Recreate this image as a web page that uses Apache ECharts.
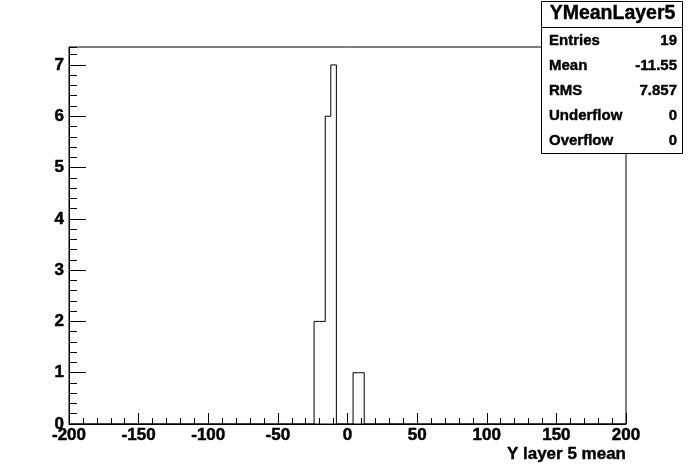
<!DOCTYPE html>
<html>
<head>
<meta charset="utf-8">
<script src="https://cdn.jsdelivr.net/npm/echarts@6/dist/echarts.min.js"></script>
<style>
html,body{margin:0;padding:0;background:#fff;}
#c{width:696px;height:472px;}
</style>
</head>
<body>
<div id="c"></div>
<script>
// Histogram bins (left edges), bin width and counts
var binLeftEdges = [-24, -20, -16, -12, 4, 8];
var binWidth = 4;
var binCounts = [2, 2, 6, 7, 1, 1];
var xRange = [-200, 200];
var yRange = [0, 7.35];
var xTickLabels = ['-200', '-150', '-100', '-50', '0', '50', '100', '150', '200'];
var yTickLabels = ['0', '1', '2', '3', '4', '5', '6', '7'];
var statsTitle = 'YMeanLayer5';
var statsNames = ['Entries', 'Mean', 'RMS', 'Underflow', 'Overflow'];
var statsValues = ['19', '-11.55', '7.857', '0', '0'];
var axisTitle = 'Y layer 5 mean';

// Build step outline points from bins
var pts = [[xRange[0], 0]];
var prevRight = null;
for (var i = 0; i < binLeftEdges.length; i++) {
  var l = binLeftEdges[i];
  if (prevRight !== null && prevRight !== l) pts.push([prevRight, 0]);
  pts.push([l, binCounts[i]]);
  prevRight = l + binWidth;
}
pts.push([prevRight, 0]);
pts.push([xRange[1], 0]);

var FONT = '"Liberation Sans", Arial, Helvetica, sans-serif';
var chart = echarts.init(document.getElementById('c'), null, {renderer: 'canvas'});

var gridL = 69, gridR = 70, gridT = 47, gridB = 48;
var boxX = 541, boxY = 1, boxW = 141, boxH = 152, sepY = 27, rowY0 = 41, rowStep = 25;
var heavy = {textBorderColor: '#000', textBorderWidth: 0.5};

function txt(x, y, s, font, align) {
  return {type: 'text', x: x, y: y, z: 101,
    style: {text: s, font: font, fill: '#000', align: align, verticalAlign: 'middle', stroke: '#000', lineWidth: 0.4}};
}

var graphics = [
  {type: 'rect', shape: {x: boxX + 0.5, y: boxY + 0.5, width: boxW, height: boxH},
   style: {fill: '#fff', stroke: '#000', lineWidth: 1}, z: 100},
  {type: 'line', shape: {x1: boxX, y1: sepY + 0.5, x2: boxX + boxW, y2: sepY + 0.5},
   style: {stroke: '#000', lineWidth: 1}, z: 101},
  txt(boxX + boxW / 2 + 1, 14, statsTitle, 'bold 19.5px ' + FONT, 'center'),
  txt(626, 454, axisTitle, 'bold 17px ' + FONT, 'right')
];
for (var k = 0; k < statsNames.length; k++) {
  graphics.push(txt(549, rowY0 + k * rowStep, statsNames[k], 'bold 15px ' + FONT, 'left'));
  graphics.push(txt(677, rowY0 + k * rowStep, statsValues[k], 'bold 15px ' + FONT, 'right'));
}

chart.setOption({
  animation: false,
  backgroundColor: '#fff',
  grid: {left: gridL, right: gridR, top: gridT, bottom: gridB, show: true, borderColor: '#000', borderWidth: 1, backgroundColor: 'transparent'},
  xAxis: {
    type: 'value', min: xRange[0], max: xRange[1], interval: 50,
    axisLine: {show: true, onZero: false, lineStyle: {color: '#000', width: 1}},
    axisTick: {show: true, inside: true, length: 11, lineStyle: {color: '#000', width: 1}},
    minorTick: {show: true, splitNumber: 5, length: 6, lineStyle: {color: '#000', width: 1}},
    splitLine: {show: false},
    axisLabel: Object.assign({show: true, margin: 3, color: '#000', fontFamily: FONT, fontWeight: 'bold', fontSize: 17,
      formatter: function (v) { var s = String(v); return xTickLabels.indexOf(s) >= 0 ? s : ''; }}, heavy)
  },
  yAxis: [{
    type: 'value', min: yRange[0], max: yRange[1], interval: 1,
    axisLine: {show: true, onZero: false, lineStyle: {color: '#000', width: 1}},
    axisTick: {show: true, inside: true, length: 17, lineStyle: {color: '#000', width: 1}},
    splitLine: {show: false},
    axisLabel: Object.assign({show: true, margin: 5, color: '#000', fontFamily: FONT, fontWeight: 'bold', fontSize: 17, showMaxLabel: false,
      formatter: function (v) { var s = String(v); return yTickLabels.indexOf(s) >= 0 ? s : ''; }}, heavy)
  }, {
    type: 'value', min: yRange[0], max: yRange[1], interval: 0.2, position: 'left', offset: 0,
    axisLine: {show: false, onZero: false},
    axisTick: {show: true, inside: true, length: 8, lineStyle: {color: '#000', width: 1}},
    splitLine: {show: false},
    axisLabel: {show: false}
  }],
  series: [{
    type: 'line', data: pts, step: 'end', showSymbol: false, symbol: 'none',
    lineStyle: {color: '#000', width: 1}, z: 3, clip: false
  }],
  graphic: graphics
});
</script>
</body>
</html>
